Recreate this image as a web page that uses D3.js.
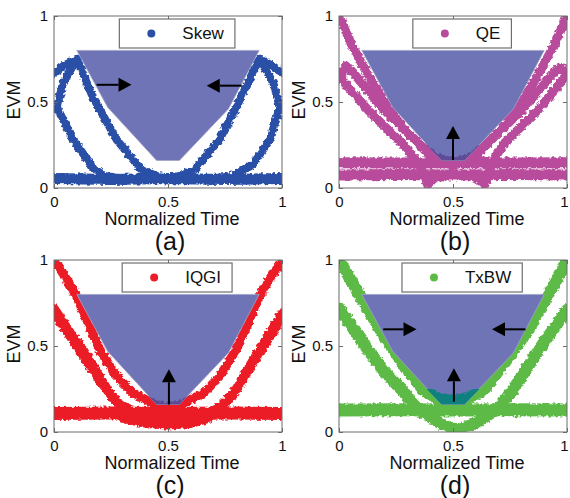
<!DOCTYPE html>
<html><head><meta charset="utf-8">
<script src="https://cdn.jsdelivr.net/npm/d3@7"></script>
<style>
body{margin:0;background:#fff}
svg{display:block}
text{font-family:"Liberation Sans",Arial,sans-serif;fill:#111}
</style></head>
<body><svg id="chart" width="570" height="498"></svg>
<script>
// ---------------- data ----------------
const categories = ["Skew", "QE", "IQGI", "TxBW"];
const panelLabels = ["(a)", "(b)", "(c)", "(d)"];
const xTickValues = [0, 0.5, 1];
const yTickValues = [0, 0.5, 1];
const xLabel = "Normalized Time";
const yLabel = "EVM";

// EVM mask (normalized time, EVM)
const maskPoints = [[0.1,0.8],[0.9,0.8],[0.765,0.46],[0.55,0.16],[0.45,0.16],[0.235,0.47]];
// lower part of the mask where traces show through
const maskBottom = [[0.45,0.16],[0.55,0.16],[0.616,0.25],[0.384,0.25]];

// (a) Skew
const skewBands = [
  [[0,0.055],[0.25,0.05],[0.5,0.055],[0.75,0.05],[1,0.055]]
];
const skewLines = [
  [[0,0.67],[0.04,0.71],[0.1,0.75],[0.17,0.53],[0.275,0.28],[0.38,0.11],[0.45,0.07],[0.5,0.06],[0.55,0.07],[0.62,0.11],[0.725,0.28],[0.8,0.47],[0.9,0.75],[0.96,0.71],[1,0.67]],
  [[0.3,0.055],[0.22,0.07],[0.17,0.12],[0.085,0.28],[0.012,0.47],[0.04,0.61],[0.1,0.75]],
  [[0.7,0.055],[0.78,0.07],[0.874,0.14],[0.947,0.28],[0.99,0.47],[0.962,0.61],[0.9,0.75]]
];
const skewArrows = [[0.187,0.6,0.34,0.6],[0.823,0.595,0.67,0.595]];

// (b) QE
const qeBands = [
  [[0,0.147],[0.25,0.145],[0.5,0.147],[0.75,0.145],[1,0.147]],
  [[0,0.075],[0.25,0.078],[0.5,0.075],[0.75,0.078],[1,0.075]]
];
const qeLines = [
  [[0,1],[0.06,0.82],[0.13,0.65],[0.2,0.5],[0.275,0.36],[0.39,0.2],[0.46,0.16],[0.5,0.15],[0.54,0.16],[0.61,0.2],[0.725,0.36],[0.8,0.5],[0.87,0.65],[0.94,0.82],[1,1]],
  [[0.45,0.08],[0.42,0.06],[0.39,0.02],[0.35,0.15],[0.275,0.26],[0.13,0.45],[0.012,0.63],[0.012,0.68],[0.03,0.71],[0.05,0.69],[0.2,0.45],[0.35,0.26],[0.44,0.16],[0.5,0.13]],
  [[0.56,0.08],[0.6,0.06],[0.64,0.02],[0.67,0.15],[0.725,0.26],[0.87,0.45],[0.99,0.64],[0.99,0.68],[0.975,0.7],[0.955,0.69],[0.8,0.45],[0.65,0.26],[0.56,0.16],[0.5,0.13]]
];
const qeArrows = [[0.5,0.163,0.5,0.36]];

// (c) IQGI
const iqgiBands = [
  [[0,0.108],[0.25,0.11],[0.5,0.108],[0.75,0.11],[1,0.108]]
];
const iqgiLines = [
  [[0,1],[0.05,0.9],[0.095,0.8],[0.2,0.48],[0.27,0.33],[0.348,0.225],[0.45,0.155],[0.5,0.145],[0.55,0.155],[0.66,0.23],[0.73,0.33],[0.8,0.48],[0.905,0.8],[0.95,0.9],[1,0.99]],
  [[0,0.72],[0.06,0.6],[0.128,0.477],[0.245,0.225],[0.3,0.14],[0.38,0.08],[0.5,0.06],[0.62,0.08],[0.72,0.14],[0.786,0.22],[0.874,0.42],[0.94,0.56],[1,0.69]],
  [[0,0.69],[0.1,0.5],[0.2,0.3],[0.27,0.18],[0.33,0.13]],
  [[1,0.66],[0.92,0.5],[0.84,0.33],[0.77,0.19],[0.7,0.12]],
  [[0.3,0.08],[0.4,0.05],[0.5,0.04],[0.6,0.05],[0.68,0.08]]
];
const iqgiArrows = [[0.504,0.16,0.504,0.365]];

// (d) TxBW
const txbwBands = [
  [[0,0.128],[0.25,0.13],[0.5,0.128],[0.75,0.13],[1,0.128]]
];
const txbwLines = [
  [[0,1],[0.1,0.775],[0.19,0.574],[0.29,0.38],[0.37,0.244],[0.44,0.19],[0.5,0.18],[0.56,0.19],[0.635,0.244],[0.725,0.4],[0.82,0.574],[0.905,0.77],[1,0.99]],
  [[0,0.72],[0.128,0.477],[0.2,0.35],[0.276,0.244],[0.35,0.13],[0.45,0.045],[0.52,0.01],[0.6,0.05],[0.7,0.14],[0.76,0.24],[0.888,0.5],[1,0.71]]
];
const txbwArrows = [[0.194,0.597,0.34,0.597],[0.818,0.597,0.671,0.597],[0.504,0.176,0.504,0.37]];

// ---------------- styles / layout ----------------
const panels = [
  {name:categories[0], label:panelLabels[0], bands:skewBands, lines:skewLines, arrows:skewArrows,
   color:"#2b4fa6", overlap:"#3a3f8f", lineW:8, bandW:11, ox:54, oy:16},
  {name:categories[1], label:panelLabels[1], bands:qeBands, lines:qeLines, arrows:qeArrows,
   color:"#b94b9d", overlap:"#5e4c98", lineW:9, bandW:11, ox:339, oy:16},
  {name:categories[2], label:panelLabels[2], bands:iqgiBands, lines:iqgiLines, arrows:iqgiArrows,
   color:"#ec1d26", overlap:"#5f4a93", lineW:9, bandW:13, ox:54, oy:260},
  {name:categories[3], label:panelLabels[3], bands:txbwBands, lines:txbwLines, arrows:txbwArrows,
   color:"#5dba47", overlap:"#10807f", lineW:12, bandW:13, ox:339, oy:260}
];
const W = 228, H = 172;
const maskFill = "#6f74b6";

const svg = d3.select("#chart");
svg.append("rect").attr("width",570).attr("height",498).attr("fill","#fff");

const x = d3.scaleLinear().domain([0,1]).range([0,W]);
const y = d3.scaleLinear().domain([0,1]).range([H,0]);
const line = d3.line().x(d=>x(d[0])).y(d=>y(d[1]));
const pts = arr => arr.map(p=>[x(p[0]),y(p[1])].join(",")).join(" ");

const defs = svg.append("defs");
defs.append("clipPath").attr("id","plotClip").append("rect").attr("width",W).attr("height",H);
defs.append("clipPath").attr("id","maskClip").append("polygon").attr("points", pts(maskBottom));
const filt = defs.append("filter").attr("id","rough")
  .attr("x","-5%").attr("y","-5%").attr("width","110%").attr("height","110%");
filt.append("feTurbulence").attr("type","fractalNoise").attr("baseFrequency",0.3)
  .attr("numOctaves",2).attr("seed",5).attr("result","noise");
filt.append("feDisplacementMap").attr("in","SourceGraphic").attr("in2","noise")
  .attr("scale",5).attr("xChannelSelector","R").attr("yChannelSelector","G");

function drawData(g, p, color){
  p.bands.forEach(b=>{
    g.append("path").attr("d",line(b)).attr("fill","none").attr("stroke",color)
      .attr("stroke-width",p.bandW).attr("stroke-linejoin","round").attr("stroke-linecap","round");
  });
  p.lines.forEach(l=>{
    g.append("path").attr("d",line(l)).attr("fill","none").attr("stroke",color)
      .attr("stroke-width",p.lineW).attr("stroke-linejoin","round").attr("stroke-linecap","round");
  });
}

panels.forEach(p=>{
  const g = svg.append("g").attr("transform",`translate(${p.ox},${p.oy})`);

  // data
  const dOuter = g.append("g").attr("clip-path","url(#plotClip)");
  const dg = dOuter.append("g").attr("filter","url(#rough)");
  drawData(dg, p, p.color);

  // mask
  g.append("polygon").attr("points", pts(maskPoints))
    .attr("fill",maskFill).attr("stroke","#a3a5c6").attr("stroke-width",0.8);

  // data showing through the bottom of the mask
  const oOuter = g.append("g").attr("clip-path","url(#maskClip)");
  const og = oOuter.append("g").attr("filter","url(#rough)");
  drawData(og, p, p.overlap);

  // arrows
  p.arrows.forEach(a=>{
    const x1=x(a[0]), y1=y(a[1]), x2=x(a[2]), y2=y(a[3]);
    const dx=x2-x1, dy=y2-y1, L=Math.hypot(dx,dy), ux=dx/L, uy=dy/L;
    const hl=13, hw=7;
    const bx=x2-ux*hl, by=y2-uy*hl;
    g.append("line").attr("x1",x1).attr("y1",y1).attr("x2",bx).attr("y2",by)
      .attr("stroke","#000").attr("stroke-width",2);
    g.append("path").attr("d",`M${x2},${y2}L${bx-uy*hw},${by+ux*hw}L${bx+uy*hw},${by-ux*hw}Z`)
      .attr("fill","#000");
  });

  // frame & ticks
  g.append("rect").attr("width",W).attr("height",H).attr("fill","none")
    .attr("stroke","#6b6b6b").attr("stroke-width",1);
  g.append("g").attr("transform",`translate(0,${H})`)
    .call(d3.axisBottom(x).tickValues(xTickValues).tickFormat(d3.format("")).tickSize(-4).tickSizeOuter(0).tickPadding(8));
  g.append("g")
    .call(d3.axisLeft(y).tickValues(yTickValues).tickFormat(d3.format("")).tickSize(-4).tickSizeOuter(0).tickPadding(6));
  g.append("g").call(d3.axisTop(x).tickValues(xTickValues).tickFormat("").tickSize(-4).tickSizeOuter(0));
  g.append("g").attr("transform",`translate(${W},0)`)
    .call(d3.axisRight(y).tickValues(yTickValues).tickFormat("").tickSize(-4).tickSizeOuter(0));
  g.selectAll(".domain").remove();
  g.selectAll(".tick line").attr("stroke","#6b6b6b");
  g.selectAll(".tick text").attr("font-size",15).attr("fill","#111")
    .attr("font-family",'"Liberation Sans",Arial,sans-serif');
  // keep the right-hand "1" inside the window
  if (p.ox + W > 560) {
    g.selectAll(".tick text").filter(d=>d===1 && this).each(function(d){
      const par = d3.select(this.parentNode);
      if (par.attr("transform") && par.attr("transform").startsWith("translate("+W)) d3.select(this).attr("x",-3);
    });
  }

  // axis labels
  g.append("text").attr("x",W/2+4).attr("y",H+37).attr("text-anchor","middle")
    .attr("font-size",18).text(xLabel);
  g.append("text").attr("transform",`translate(-34,${H/2-2}) rotate(-90)`)
    .attr("text-anchor","middle").attr("font-size",18).text(yLabel);
  g.append("text").attr("x",W/2+2).attr("y",H+62).attr("text-anchor","middle")
    .attr("font-size",25).text(p.label);

  // legend
  const lg = g.append("g");
  const lt = lg.append("text").attr("font-size",17).attr("dy","0.35em").text(p.name);
  const tw = lt.node().getComputedTextLength();
  const lw = tw + 74, lh = 29;
  const lx = W*0.54 - lw/2, ly = 3;
  lg.insert("rect","text").attr("x",lx).attr("y",ly).attr("width",lw).attr("height",lh)
    .attr("fill","#fff").attr("stroke","#6f6f6f").attr("stroke-width",1.2);
  lg.insert("circle","text").attr("cx",lx+32).attr("cy",ly+lh/2).attr("r",4).attr("fill",p.color);
  lt.attr("x",lx+63).attr("y",ly+lh/2);
});
</script></body></html>
